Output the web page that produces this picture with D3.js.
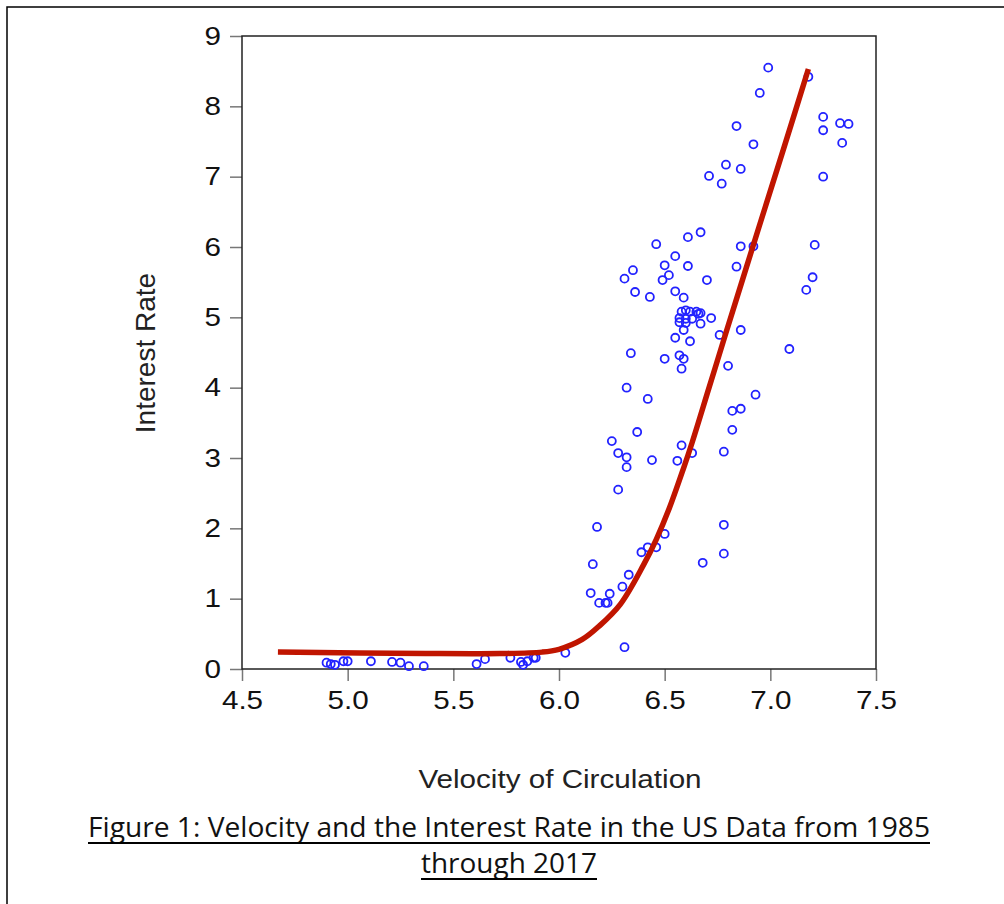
<!DOCTYPE html>
<html>
<head>
<meta charset="utf-8">
<script src="https://cdn.jsdelivr.net/npm/d3@7"></script>
<style>
  body { margin: 0; background: #fff; }
  svg { display: block; }
</style>
</head>
<body>
<svg id="chart" width="1004" height="904"></svg>
<script>
// scatter: velocity of circulation vs interest rate
const velocity = [
  4.90, 4.92, 4.94, 4.98, 5.00, 5.11, 5.21, 5.25, 5.29, 5.36, 5.61, 5.65, 5.77, 5.82, 5.83, 5.85, 5.88, 5.89, 6.03, 6.31,
  6.15, 6.16, 6.18, 6.19, 6.22, 6.23, 6.24, 6.30, 6.33, 6.39, 6.42, 6.46, 6.50, 6.68, 6.78, 6.78, 6.25, 6.28, 6.32, 6.32,
  6.44, 6.56, 6.58, 6.63, 6.78, 6.28, 6.37, 6.42, 6.32, 6.93, 6.82, 6.86, 6.82, 6.58, 6.80,
  6.67, 6.61, 6.46, 6.86, 6.92, 7.21, 6.55, 6.50, 6.61, 6.84, 6.35, 6.31, 6.52, 6.49, 6.70, 7.20, 7.17, 6.36, 6.43, 6.55, 6.59,
  6.58, 6.60, 6.62, 6.65, 6.67, 6.66, 6.57, 6.60, 6.63, 6.57, 6.60, 6.67, 6.59,
  6.72, 6.86, 6.76, 6.55, 6.62, 7.09, 6.34, 6.57, 6.59, 6.50,
  6.99, 7.18, 6.95, 6.84, 6.92, 7.25, 7.25, 7.33, 7.37, 7.34, 6.79, 6.86, 6.71, 6.77, 7.25
];
const rate = [
  0.09, 0.07, 0.06, 0.11, 0.11, 0.11, 0.10, 0.09, 0.04, 0.04, 0.07, 0.14, 0.16, 0.10, 0.06, 0.11, 0.16, 0.16, 0.23, 0.31,
  1.08, 1.49, 2.02, 0.94, 0.94, 0.94, 1.07, 1.17, 1.34, 1.66, 1.73, 1.73, 1.92, 1.51, 2.05, 1.64, 3.24, 3.07, 3.01, 2.87,
  2.97, 2.96, 3.18, 3.07, 3.09, 2.55, 3.37, 3.84, 4.00, 3.90, 3.67, 3.70, 3.40, 4.27, 4.31,
  6.21, 6.14, 6.04, 6.01, 6.01, 6.03, 5.87, 5.74, 5.73, 5.72, 5.67, 5.55, 5.60, 5.53, 5.53, 5.57, 5.39, 5.36, 5.29, 5.37, 5.28,
  5.08, 5.10, 5.08, 5.08, 5.06, 5.05, 4.99, 4.98, 4.98, 4.93, 4.92, 4.91, 4.82,
  4.99, 4.82, 4.75, 4.71, 4.66, 4.55, 4.49, 4.46, 4.41, 4.41,
  8.55, 8.42, 8.19, 7.72, 7.46, 7.85, 7.66, 7.76, 7.75, 7.48, 7.17, 7.11, 7.01, 6.90, 7.00
];

// fitted curve
const fitVelocity = [4.67, 5.37, 5.72, 5.92, 6.00, 6.11, 6.19, 6.29, 6.40, 6.46, 6.52, 6.59, 6.63, 6.71, 6.79, 6.87, 6.95, 7.06, 7.18];
const fitRate     = [0.24, 0.22, 0.22, 0.24, 0.28, 0.42, 0.61, 0.92, 1.48, 1.84, 2.27, 2.86, 3.22, 4.00, 4.78, 5.55, 6.32, 7.37, 8.53];

const xTicks = [4.5, 5.0, 5.5, 6.0, 6.5, 7.0, 7.5];
const yTicks = [0, 1, 2, 3, 4, 5, 6, 7, 8, 9];

const xLabel = "Velocity of Circulation";
const yLabel = "Interest Rate";
const caption = ["Figure 1: Velocity and the Interest Rate in the US Data from 1985", "through 2017"];

let plotLeft = 242, plotRight = 876, plotTop = 36, plotBottom = 669;
let stretch = 1.14;

var svg = d3.select("#chart");

// page frame
svg.append("path")
  .attr("d", "M7,904 V7 H1004")
  .attr("fill", "none")
  .attr("stroke", "#000")
  .attr("stroke-width", 1.5);

var x = d3.scaleLinear().domain([4.5, 7.5]).range([plotLeft, plotRight]);
var y = d3.scaleLinear().domain([0, 9]).range([plotBottom, plotTop]);

var xAxis = svg.append("g")
  .attr("transform", `translate(0,${plotBottom})`)
  .call(d3.axisBottom(x).tickValues(xTicks).tickFormat(d3.format(".1f")).tickSize(12).tickPadding(10).tickSizeOuter(0));

var yAxis = svg.append("g")
  .attr("transform", `translate(${plotLeft},0)`)
  .call(d3.axisLeft(y).tickValues(yTicks).tickFormat(d3.format("d")).tickSize(12).tickPadding(9).tickSizeOuter(0));

for (let g of [xAxis, yAxis]) {
  g.select(".domain").remove();
  g.selectAll(".tick line").attr("stroke", "#777").attr("stroke-width", 1.5);
  g.selectAll(".tick text")
    .attr("fill", "#111")
    .style("font-family", "'Liberation Sans', Arial, sans-serif")
    .style("font-size", "26px");
}
// widen tick labels a little, like the original
xAxis.selectAll(".tick text").attr("transform", `scale(${stretch},1)`);
yAxis.selectAll(".tick text").each(function () {
  const t = d3.select(this);
  const x0 = +t.attr("x");
  t.attr("x", 0).attr("transform", `translate(${x0},0) scale(${stretch},1)`);
});

// plot box
svg.append("rect")
  .attr("x", plotLeft).attr("y", plotTop)
  .attr("width", plotRight - plotLeft).attr("height", plotBottom - plotTop)
  .attr("fill", "none")
  .attr("stroke", "#222")
  .attr("stroke-width", 1.5);

// points
svg.selectAll(".pt")
  .data(d3.range(velocity.length))
  .join("circle")
  .attr("class", "pt")
  .attr("cx", i => x(velocity[i]))
  .attr("cy", i => y(rate[i]))
  .attr("r", 4)
  .attr("fill", "none")
  .attr("stroke", "#2222ff")
  .attr("stroke-width", 1.8);

// fitted line
let line = d3.line()
  .x(i => x(fitVelocity[i]))
  .y(i => y(fitRate[i]))
  .curve(d3.curveCatmullRom);

svg.append("path")
  .datum(d3.range(fitVelocity.length))
  .attr("d", line)
  .attr("fill", "none")
  .attr("stroke", "#c01500")
  .attr("stroke-width", 5.5);

// axis titles
svg.append("text")
  .attr("transform", `translate(560,788) scale(${stretch},1)`)
  .attr("text-anchor", "middle")
  .style("font-family", "'Liberation Sans', Arial, sans-serif")
  .style("font-size", "26px")
  .attr("fill", "#222")
  .text(xLabel);

svg.append("text")
  .attr("transform", "translate(155,353) rotate(-90)")
  .attr("text-anchor", "middle")
  .style("font-family", "'Liberation Sans', Arial, sans-serif")
  .style("font-size", "28px")
  .attr("fill", "#222")
  .text(yLabel);

// caption, underlined
const capW = [842, 176];
const capY = [837, 873];
caption.forEach(function (s, i) {
  svg.append("text")
    .attr("x", 509).attr("y", capY[i])
    .attr("text-anchor", "middle")
    .attr("textLength", capW[i])
    .attr("lengthAdjust", "spacingAndGlyphs")
    .style("font-family", "'Open Sans', sans-serif")
    .style("font-size", "27px")
    .attr("fill", "#111")
    .text(s);
  svg.append("line")
    .attr("x1", 509 - capW[i] / 2).attr("x2", 509 + capW[i] / 2)
    .attr("y1", capY[i] + 6).attr("y2", capY[i] + 6)
    .attr("stroke", "#000")
    .attr("stroke-width", 2);
});
</script>
</body>
</html>
